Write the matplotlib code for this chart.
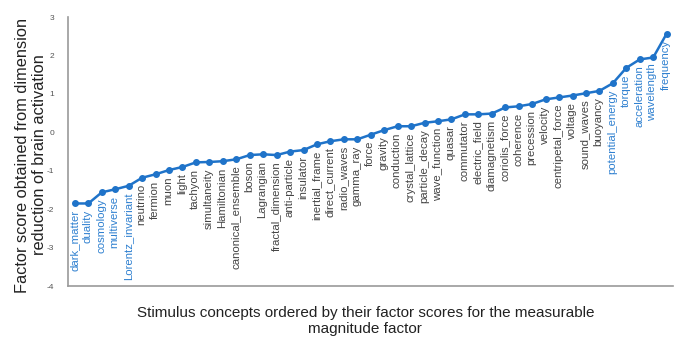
import matplotlib
matplotlib.use("Agg")
import matplotlib.pyplot as plt
import numpy as np

plt.rcParams['font.family'] = ['Liberation Sans', 'DejaVu Sans']

concepts = ['dark_matter', 'duality', 'cosmology', 'multiverse', 'Lorentz_invariant',
            'neutrino', 'fermion', 'muon', 'light', 'tachyon', 'simultaneity',
            'Hamiltonian', 'canonical_ensemble', 'boson', 'Lagrangian',
            'fractal_dimension', 'anti-particle', 'insulator', 'inertial_frame',
            'direct_current', 'radio_waves', 'gamma_ray', 'force', 'gravity',
            'conduction', 'crystal_lattice', 'particle_decay', 'wave_function',
            'quasar', 'commutator', 'electric_field', 'diamagnetism',
            'coriolis_force', 'coherence', 'precession', 'velocity',
            'centripetal_force', 'voltage', 'sound_waves', 'buoyancy',
            'potential_energy', 'torque', 'acceleration', 'wavelength', 'frequency']
scores = [-1.85, -1.85, -1.56, -1.48, -1.39, -1.18, -1.09, -0.98, -0.90, -0.78,
          -0.77, -0.75, -0.70, -0.59, -0.57, -0.59, -0.50, -0.46, -0.31, -0.23,
          -0.18, -0.18, -0.06, 0.06, 0.16, 0.16, 0.25, 0.29, 0.34, 0.47,
          0.47, 0.49, 0.65, 0.68, 0.74, 0.86, 0.91, 0.96, 1.02, 1.08,
          1.28, 1.68, 1.90, 1.95, 2.57]
highlighted = ['dark_matter', 'duality', 'cosmology', 'multiverse', 'Lorentz_invariant',
               'potential_energy', 'torque', 'acceleration', 'wavelength', 'frequency']
yticks = [3, 2, 1, 0, -1, -2, -3, -4]

line_blue = '#1f73c9'
label_blue = '#2f80d0'
label_gray = '#444444'

fig = plt.figure(figsize=(7, 3.43), dpi=100)
ax = fig.add_axes([0.097, 0.166, 0.864, 0.784])

x = np.arange(len(concepts))
ax.plot(x, scores, color=line_blue, lw=1.8, marker='o', ms=4)

for xi, yi, name in zip(x, scores, concepts):
    c = label_blue if name in highlighted else label_gray
    ax.annotate(name, (xi, yi), xytext=(-0.5, -4.5), textcoords='offset points',
                rotation=90, ha='center', va='top', fontsize=8.2, color=c)

ax.set_xlim(-0.52, 44.45)
ax.set_ylim(-4, 3)
ax.set_yticks(yticks)
ax.set_yticklabels([str(t) for t in yticks])
ax.set_xticks([])
ax.tick_params(axis='y', length=0, labelsize=6, labelcolor='#555555', pad=10)
for s in ['top', 'right']:
    ax.spines[s].set_visible(False)
for s in ['left', 'bottom']:
    ax.spines[s].set_color('#9a9a9a')
    ax.spines[s].set_linewidth(1.2)

fig.text(0.044, 0.548, 'Factor score obtained from dimension\nreduction of brain activation',
         rotation=90, ha='center', va='center', fontsize=11.8, color='#222222',
         linespacing=1.15)
fig.text(0.522, 0.064, 'Stimulus concepts ordered by their factor scores for the measurable\nmagnitude factor',
         ha='center', va='center', fontsize=11, color='#222222', linespacing=1.15)

fig.savefig('out.png', dpi=100)
